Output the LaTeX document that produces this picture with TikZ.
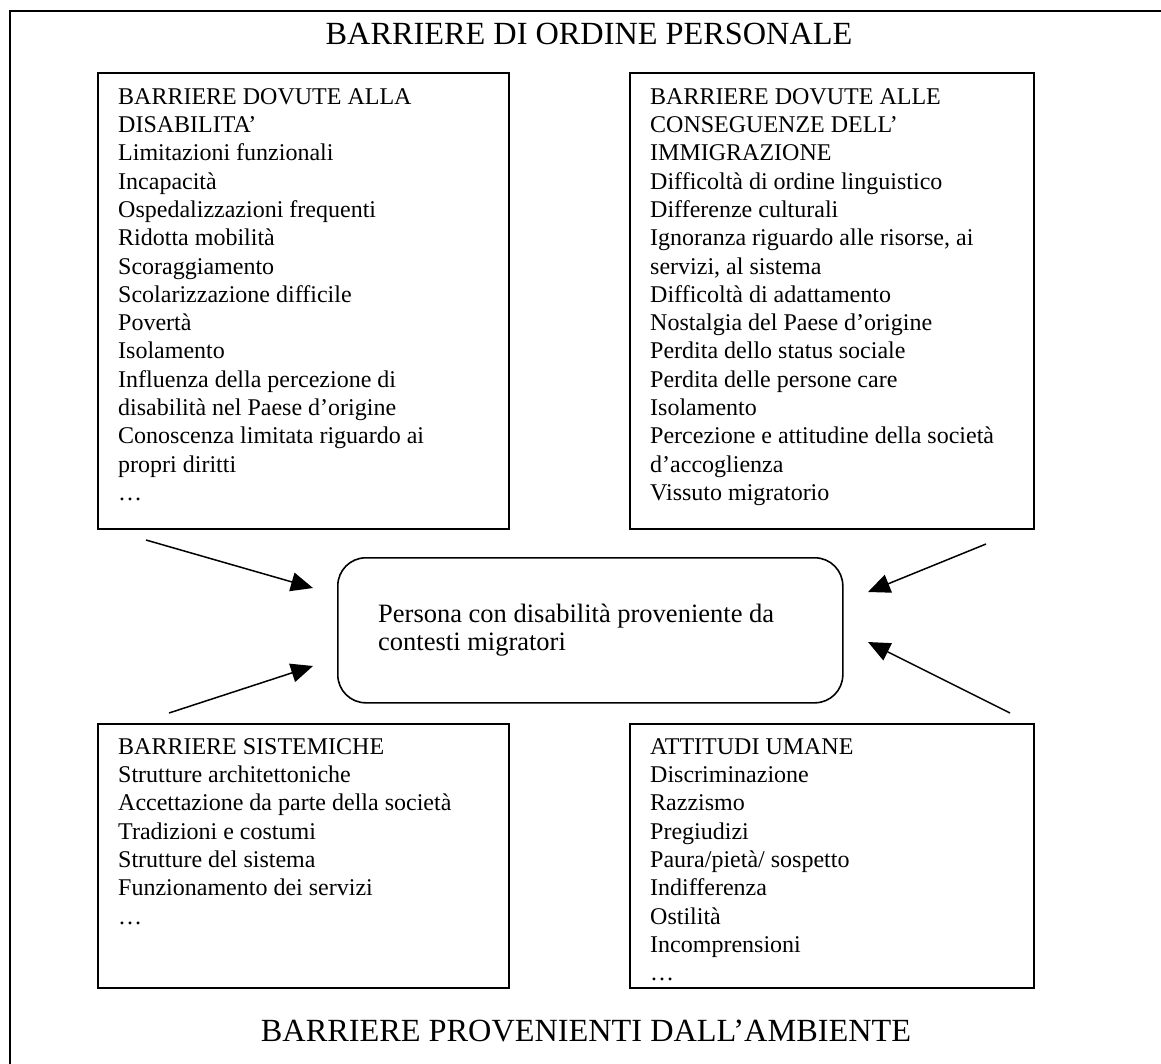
\documentclass[tikz,border=0pt]{standalone}
\usepackage{fontspec}
\setmainfont{Liberation Serif}
\usetikzlibrary{arrows.meta}

% strut that fixes the height of the first line of a list
\newcommand{\firstline}{\rule{0pt}{20pt}}

\begin{document}
\begin{tikzpicture}[x=1pt,y=-1pt,
  frame/.style={line width=2.2pt,line cap=rect},
  panel/.style={draw,line width=1.8pt,rectangle,inner sep=0pt,anchor=north west},
  core/.style={draw,line width=1.6pt,rectangle,rounded corners=28pt,inner sep=0pt,anchor=north west},
  listtext/.style={anchor=north west,align=left,inner sep=0pt,
    font={\fontsize{24}{28.3}\selectfont}},
  heading/.style={anchor=base,inner sep=0pt,font={\fontsize{32.3}{36}\selectfont}},
  feed/.style={line width=1.5pt,-{Triangle[length=22pt,width=19pt]}}
]
\useasboundingbox (0,0) rectangle (1161,1063);
\fill[white] (0,0) rectangle (1161,1063);

% outer frame (left and top sides)
\draw[frame] (10,1063) -- (10,11) -- (1161,11);

% headings
\node[heading] (toptitle) at (589,44) {BARRIERE DI ORDINE PERSONALE};
\node[heading] (bottomtitle) at (586,1041) {BARRIERE PROVENIENTI DALL’AMBIENTE};

% four panels
\node[panel,minimum width=411pt,minimum height=456pt] (disab) at (97,72) {};
\node[panel,minimum width=404pt,minimum height=456pt] (immig) at (629,72) {};
\node[panel,minimum width=411pt,minimum height=264pt] (system) at (97,723) {};
\node[panel,minimum width=404pt,minimum height=264pt] (attit) at (629,723) {};

% central rounded box
\node[core,minimum width=505pt,minimum height=145pt] (person) at (337,557) {};

% panel texts
\node[listtext] (disabtext) at (118,84) {\firstline BARRIERE DOVUTE ALLA\\
DISABILITA’\\
Limitazioni funzionali\\
Incapacità\\
Ospedalizzazioni frequenti\\
Ridotta mobilità\\
Scoraggiamento\\
Scolarizzazione difficile\\
Povertà\\
Isolamento\\
Influenza della percezione di\\
disabilità nel Paese d’origine\\
Conoscenza limitata riguardo ai\\
propri diritti\\
…};

\node[listtext] (immigtext) at (650,84) {\firstline BARRIERE DOVUTE ALLE\\
CONSEGUENZE DELL’\\
IMMIGRAZIONE\\
Difficoltà di ordine linguistico\\
Differenze culturali\\
Ignoranza riguardo alle risorse, ai\\
servizi, al sistema\\
Difficoltà di adattamento\\
Nostalgia del Paese d’origine\\
Perdita dello status sociale\\
Perdita delle persone care\\
Isolamento\\
Percezione e attitudine della società\\
d’accoglienza\\
Vissuto migratorio};

\node[listtext] (systemtext) at (118,734) {\firstline BARRIERE SISTEMICHE\\
Strutture architettoniche\\
Accettazione da parte della società\\
Tradizioni e costumi\\
Strutture del sistema\\
Funzionamento dei servizi\\
…};

\node[listtext] (attittext) at (650,734) {\firstline ATTITUDI UMANE\\
Discriminazione\\
Razzismo\\
Pregiudizi\\
Paura/pietà/ sospetto\\
Indifferenza\\
Ostilità\\
Incomprensioni\\
…};

\node[listtext,font={\fontsize{26.5}{28.3}\selectfont}] (persontext) at (378,602) {\firstline Persona con disabilità proveniente da\\
contesti migratori};

% arrow ends
\coordinate (disabfrom) at (146,540);
\coordinate (disabto) at (313,588);
\coordinate (immigfrom) at (986,544);
\coordinate (immigto) at (868,592);
\coordinate (systemfrom) at (169,713);
\coordinate (systemto) at (313,666);
\coordinate (attitfrom) at (1010,713);
\coordinate (attitto) at (868,642);

\draw[feed] (disabfrom) -- (disabto);
\draw[feed] (immigfrom) -- (immigto);
\draw[feed] (systemfrom) -- (systemto);
\draw[feed] (attitfrom) -- (attitto);
\end{tikzpicture}
\end{document}
